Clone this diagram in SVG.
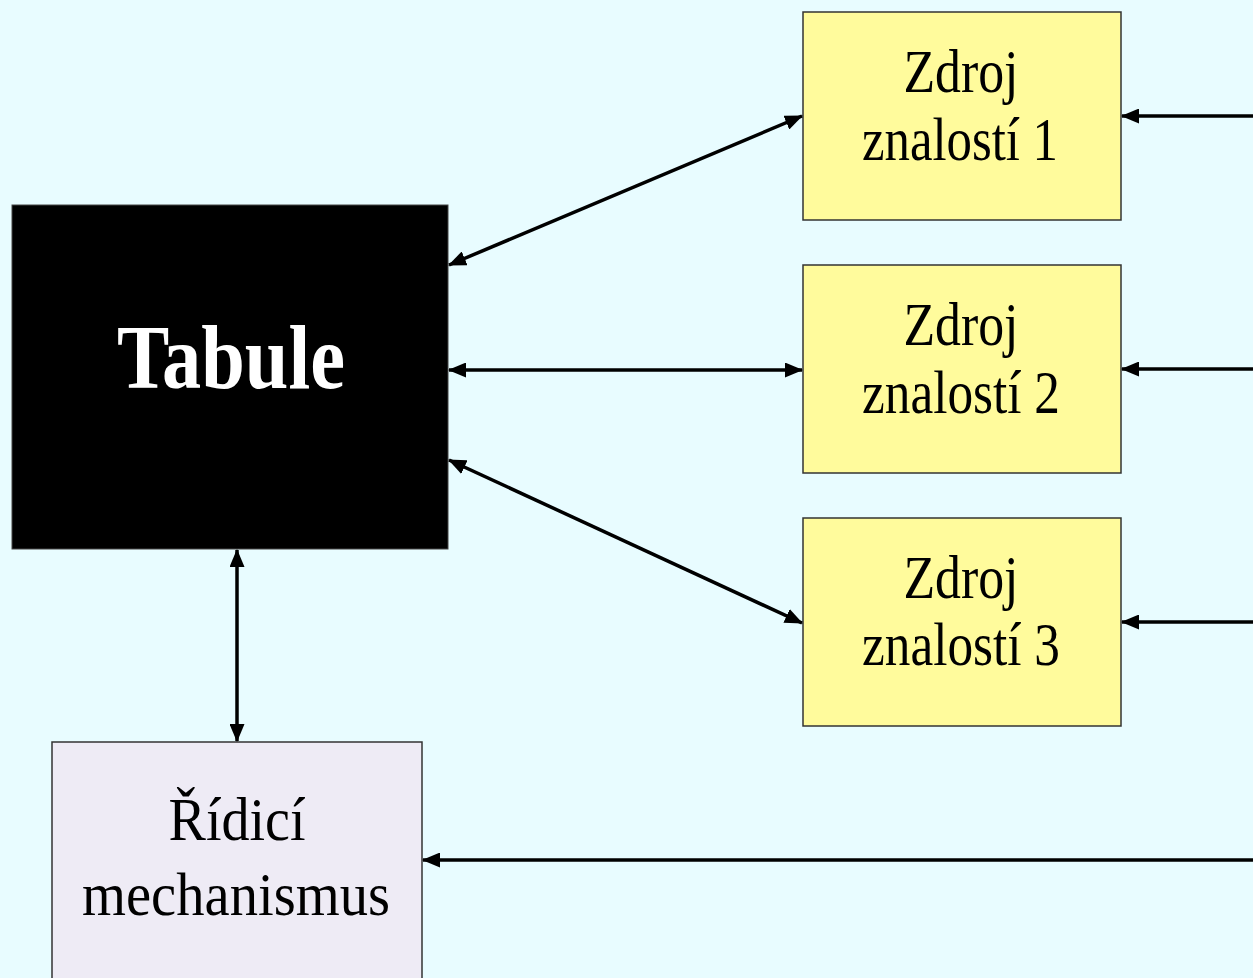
<svg xmlns="http://www.w3.org/2000/svg" width="1253" height="978" viewBox="0 0 1253 978">
  <style>
    .src { fill: #FFFB9C; stroke: #333333; stroke-width: 1.5; }
    .ctl { fill: #EEEBF5; stroke: #333333; stroke-width: 1.5; }
    .board { fill: #000000; stroke: #444444; stroke-width: 1; }
    .lbl { font-family: "Liberation Serif", "Times New Roman", serif; font-size: 62px; fill: #000000; text-anchor: middle; }
    .title { font-family: "Liberation Serif", "Times New Roman", serif; font-size: 90px; font-weight: bold; fill: #ffffff; text-anchor: middle; }
    .conn { stroke: #000000; stroke-width: 3.5; fill: none; }
  </style>
  <defs>
    <!-- filled triangular arrowhead, sized in user units -->
    <marker id="head" viewBox="0 0 18 15" refX="17" refY="7.5" markerWidth="18" markerHeight="15" markerUnits="userSpaceOnUse" orient="auto-start-reverse">
      <path d="M0,0 L18,7.5 L0,15 Z" fill="#000000"/>
    </marker>
  </defs>

  <rect x="0" y="0" width="1253" height="978" fill="#E8FCFF"/>

  <g id="tabule">
    <rect class="board" x="12" y="205" width="436" height="344"/>
    <text class="title" x="231" y="388" textLength="228" lengthAdjust="spacingAndGlyphs">Tabule</text>
  </g>

  <g id="zdroj1">
    <rect class="src" x="803" y="12" width="318" height="208"/>
    <text class="lbl" x="961" y="92" textLength="115" lengthAdjust="spacingAndGlyphs">Zdroj</text>
    <text class="lbl" x="960" y="160" textLength="196" lengthAdjust="spacingAndGlyphs">znalostí 1</text>
  </g>

  <g id="zdroj2">
    <rect class="src" x="803" y="265" width="318" height="208"/>
    <text class="lbl" x="961" y="345" textLength="115" lengthAdjust="spacingAndGlyphs">Zdroj</text>
    <text class="lbl" x="961" y="413" textLength="198" lengthAdjust="spacingAndGlyphs">znalostí 2</text>
  </g>

  <g id="zdroj3">
    <rect class="src" x="803" y="518" width="318" height="208"/>
    <text class="lbl" x="961" y="598" textLength="115" lengthAdjust="spacingAndGlyphs">Zdroj</text>
    <text class="lbl" x="961" y="665" textLength="198" lengthAdjust="spacingAndGlyphs">znalostí 3</text>
  </g>

  <g id="ridici">
    <rect class="ctl" x="52" y="742" width="370" height="250"/>
    <text class="lbl" x="237" y="840" textLength="137" lengthAdjust="spacingAndGlyphs">Řídicí</text>
    <text class="lbl" x="236" y="915" textLength="308" lengthAdjust="spacingAndGlyphs">mechanismus</text>
  </g>

  <g id="connectors">
    <line class="conn" x1="449" y1="265" x2="802" y2="116" marker-start="url(#head)" marker-end="url(#head)"/>
    <line class="conn" x1="449" y1="370" x2="802" y2="370" marker-start="url(#head)" marker-end="url(#head)"/>
    <line class="conn" x1="449" y1="460" x2="802" y2="623" marker-start="url(#head)" marker-end="url(#head)"/>
    <line class="conn" x1="237" y1="550" x2="237" y2="741" marker-start="url(#head)" marker-end="url(#head)"/>
    <line class="conn" x1="1253" y1="116" x2="1122" y2="116" marker-end="url(#head)"/>
    <line class="conn" x1="1253" y1="369" x2="1122" y2="369" marker-end="url(#head)"/>
    <line class="conn" x1="1253" y1="622" x2="1122" y2="622" marker-end="url(#head)"/>
    <line class="conn" x1="1253" y1="860" x2="423" y2="860" marker-end="url(#head)"/>
  </g>
</svg>
